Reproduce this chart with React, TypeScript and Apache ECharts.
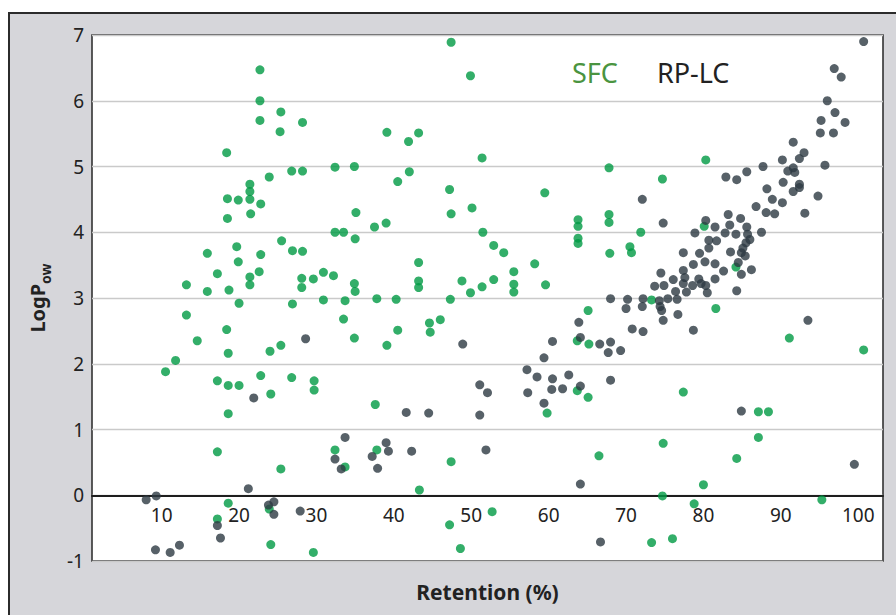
import React, { useEffect, useRef } from "react";
import * as echarts from "echarts";

// Retention (%) vs LogPow
const sfcPoints: [number, number][] = [
  [22.7, 6.47], [22.7, 6.0], [25.4, 5.83], [28.2, 5.67], [22.7, 5.7], [25.3, 5.53], [18.4, 5.21], [32.4, 4.99],
  [34.9, 5.0], [23.9, 4.84], [26.8, 4.93], [28.2, 4.93], [21.4, 4.73], [21.4, 4.62], [21.4, 4.5], [18.5, 4.51],
  [19.9, 4.49], [22.8, 4.43], [21.5, 4.28], [18.5, 4.21], [35.1, 4.3], [32.4, 4.0], [33.5, 4.0], [35.0, 3.9],
  [25.5, 3.87], [19.7, 3.78], [15.9, 3.68], [26.9, 3.72], [28.2, 3.71], [22.8, 3.66], [19.9, 3.55], [17.2, 3.37],
  [22.6, 3.4], [21.4, 3.32], [21.4, 3.2], [13.2, 3.2], [15.9, 3.1], [18.7, 3.12], [28.1, 3.3], [29.6, 3.29],
  [28.1, 3.16], [30.9, 3.39], [32.2, 3.34], [34.9, 3.22], [35.0, 3.1], [30.9, 2.97], [33.7, 2.96], [20.0, 2.92],
  [26.9, 2.91],
  [13.2, 2.74], [18.4, 2.52], [14.6, 2.35], [18.6, 2.16], [24.0, 2.19], [25.4, 2.28], [33.5, 2.68], [34.9, 2.39],
  [11.8, 2.05], [10.5, 1.88], [17.2, 1.74], [18.6, 1.67], [20.0, 1.67], [22.8, 1.82], [24.1, 1.54], [26.8, 1.79],
  [29.7, 1.74], [29.7, 1.6], [18.6, 1.24], [32.4, 0.69], [33.7, 0.43], [17.2, 0.66], [25.4, 0.4], [18.6, -0.12],
  [17.2, -0.36], [23.9, -0.21], [24.1, -0.75], [29.6, -0.87],
  [47.4, 6.89], [49.9, 6.38], [39.1, 5.52], [41.9, 5.38], [43.2, 5.51], [51.4, 5.13], [67.8, 4.98], [42.0, 4.92],
  [40.5, 4.77], [47.2, 4.65], [59.5, 4.6], [47.4, 4.28], [50.1, 4.37], [37.5, 4.08], [39.0, 4.14], [63.8, 4.19],
  [63.8, 4.09], [67.8, 4.27], [67.8, 4.15], [51.5, 4.0], [52.9, 3.8], [54.2, 3.69], [63.8, 3.91], [63.8, 3.83],
  [67.9, 3.68], [43.2, 3.54], [58.2, 3.52], [55.5, 3.4], [43.2, 3.26], [43.2, 3.16], [48.8, 3.26], [49.9, 3.08],
  [51.4, 3.17], [52.9, 3.28], [55.5, 3.21], [55.5, 3.09], [59.6, 3.2], [37.8, 2.99], [40.3, 2.98], [47.3, 2.98],
  [65.1, 2.81], [63.7, 2.35], [65.2, 2.3], [39.1, 2.28], [40.5, 2.51], [44.6, 2.62], [44.7, 2.48], [46.0, 2.67],
  [63.7, 1.59], [65.1, 1.49], [59.8, 1.25], [37.6, 1.38], [37.8, 0.69], [47.4, 0.51], [66.5, 0.6], [43.3, 0.08],
  [52.7, -0.25], [47.2, -0.45], [48.6, -0.81],
  [80.3, 5.1], [74.7, 4.81], [71.9, 4.0], [70.5, 3.78], [70.7, 3.69], [80.1, 4.09], [84.2, 3.47], [73.3, 2.97],
  [81.6, 2.84], [91.1, 2.39], [100.7, 2.21], [77.4, 1.57], [87.1, 1.27], [88.4, 1.27], [87.1, 0.88], [74.8, 0.79],
  [84.3, 0.56], [80.0, 0.16], [74.7, -0.01], [78.8, -0.13], [95.3, -0.07], [73.3, -0.72], [76.0, -0.66],
];

const rplcPoints: [number, number][] = [
  [28.6, 2.38], [21.9, 1.48], [33.7, 0.88], [32.4, 0.55], [33.2, 0.4], [21.2, 0.1], [9.3, -0.01], [8.0, -0.07],
  [17.2, -0.46], [17.6, -0.65], [23.8, -0.15], [24.5, -0.1], [24.5, -0.29], [27.9, -0.24], [9.2, -0.83],
  [11.1, -0.87], [12.3, -0.76],
  [68.0, 2.99],
  [63.9, 2.63], [64.1, 2.4], [66.6, 2.3], [68.0, 2.33], [67.7, 2.17], [69.3, 2.2], [60.5, 2.34], [59.4, 2.09],
  [48.9, 2.3], [57.2, 1.91], [58.5, 1.8], [57.3, 1.56], [60.5, 1.77], [60.4, 1.61], [61.8, 1.62], [62.6, 1.83],
  [64.1, 1.66], [59.4, 1.4], [68.0, 1.75], [51.1, 1.68], [52.1, 1.56], [51.1, 1.22], [41.6, 1.26], [44.5, 1.25],
  [39.0, 0.8], [39.3, 0.67], [37.2, 0.59], [37.9, 0.41], [42.3, 0.67], [51.9, 0.69], [64.1, 0.17], [66.7, -0.71],
  [100.7, 6.9], [96.9, 6.49], [97.8, 6.36], [96.0, 6.0], [97.0, 5.82], [98.3, 5.67], [95.2, 5.7], [95.1, 5.51],
  [96.8, 5.51], [91.6, 5.37], [93.0, 5.21], [92.4, 5.12], [95.7, 5.02], [90.2, 5.1], [87.7, 5.0], [85.6, 4.92],
  [84.3, 4.8], [82.9, 4.84], [91.6, 4.98], [90.9, 4.93], [91.8, 4.91], [90.3, 4.76], [92.4, 4.73], [92.4, 4.68],
  [91.6, 4.62], [88.2, 4.66], [88.9, 4.5], [90.2, 4.45], [94.8, 4.55], [93.1, 4.29], [86.8, 4.39], [88.1, 4.3],
  [89.2, 4.28], [72.1, 4.5], [74.8, 4.14], [80.3, 4.18], [83.2, 4.27], [84.8, 4.21], [83.4, 4.11], [81.5, 4.08],
  [78.9, 3.99], [82.8, 3.99], [84.2, 3.97], [85.6, 4.08], [85.7, 3.97], [86.0, 3.89], [85.5, 3.84], [87.5, 4.0],
  [80.7, 3.88], [81.7, 3.87], [80.7, 3.76], [85.1, 3.76], [77.4, 3.69], [79.5, 3.68], [83.5, 3.7], [84.9, 3.69],
  [85.4, 3.64], [78.7, 3.51], [80.2, 3.55], [81.5, 3.52], [84.5, 3.54], [77.4, 3.42], [74.5, 3.38], [82.6, 3.41],
  [84.9, 3.36], [86.2, 3.43], [76.1, 3.28], [77.6, 3.31], [79.4, 3.29], [81.5, 3.29], [73.7, 3.18], [74.9, 3.19],
  [77.4, 3.22], [78.6, 3.19], [79.7, 3.22], [80.3, 3.19], [76.4, 3.1], [77.8, 3.09], [80.5, 3.08], [84.3, 3.11],
  [70.2, 2.98], [72.2, 2.99], [74.3, 2.96], [75.4, 2.99], [76.6, 2.98],
  [70.0, 2.84], [72.1, 2.87], [74.4, 2.87], [74.6, 2.81], [74.8, 2.66], [76.7, 2.75], [70.8, 2.53], [72.2, 2.49],
  [78.7, 2.51], [93.5, 2.66], [84.9, 1.28], [99.5, 0.47],
];

const seriesNames = ["SFC", "RP-LC"];
const xTickValues = [10, 20, 30, 40, 50, 60, 70, 80, 90, 100];
const yMin = -1;
const yMax = 7;

const FONT = "'Noto Sans', 'Open Sans', sans-serif";
const GREEN = "#009a44";
const DARK = "#2d3a42";

const GRID_TOP = 35;
const GRID_BOTTOM = 54;
const CHART_H = 615;

export default function App() {
  const ref = useRef<HTMLDivElement>(null);

  useEffect(() => {
    if (!ref.current) return;
    const chart = echarts.init(ref.current, undefined, { renderer: "svg" });
    // move the x axis (line, labels, name) up to the y = 0 line
    const plotH = CHART_H - GRID_TOP - GRID_BOTTOM;
    const zeroOffset = -(plotH * (0 - yMin)) / (yMax - yMin);
    chart.setOption({
      animation: false,
      backgroundColor: "transparent",
      textStyle: { fontFamily: FONT },
      grid: {
        left: 92,
        top: GRID_TOP,
        right: 13,
        bottom: GRID_BOTTOM,
        containLabel: false,
        outerBoundsMode: "none",
        show: true,
        backgroundColor: "#ffffff",
        borderColor: "#333333",
        borderWidth: 1.6,
      },
      legend: {
        data: [
          { name: seriesNames[0], textStyle: { color: "#4a9440" } },
          { name: seriesNames[1], textStyle: { color: "#222222" } },
        ],
        icon: "none",
        itemWidth: 0,
        itemGap: 34,
        left: 562,
        top: 54,
        selectedMode: false,
        textStyle: { fontSize: 27, fontFamily: FONT },
      },
      xAxis: {
        type: "value",
        min: 1,
        max: 103.2,
        position: "bottom",
        offset: zeroOffset,
        name: "Retention (%)",
        nameLocation: "middle",
        nameGap: 86,
        nameTextStyle: { fontSize: 21, fontWeight: "bold", color: "#222", fontFamily: FONT },
        axisLine: { onZero: false, lineStyle: { color: "#1e1e1e", width: 2 } },
        axisTick: { show: false },
        splitLine: { show: false },
        axisLabel: {
          customValues: xTickValues,
          fontSize: 19,
          color: "#222",
          margin: 10,
          fontFamily: FONT,
        },
      },
      yAxis: {
        type: "value",
        min: yMin,
        max: yMax,
        interval: 1,
        name: "{a|LogP}{b|ow}",
        nameLocation: "middle",
        nameRotate: 90,
        nameGap: 40,
        nameTextStyle: {
          rich: {
            a: { fontSize: 20, fontWeight: "bold", color: "#222", fontFamily: FONT, lineHeight: 30, verticalAlign: "middle" },
            b: { fontSize: 14, fontWeight: "bold", color: "#222", fontFamily: FONT, lineHeight: 14, verticalAlign: "bottom" },
          },
        },
        axisLine: { show: false },
        axisTick: { show: false },
        splitLine: { show: true, lineStyle: { color: "#cacaca", width: 1.3 } },
        axisLabel: { fontSize: 19, color: "#222", margin: 8, fontFamily: FONT },
      },
      series: [
        {
          name: seriesNames[0],
          type: "scatter",
          data: sfcPoints,
          symbolSize: 9,
          itemStyle: { color: GREEN },
          z: 2,
        },
        {
          name: seriesNames[1],
          type: "scatter",
          data: rplcPoints,
          symbolSize: 9,
          itemStyle: { color: DARK },
          z: 3,
        },
      ],
    });
    return () => chart.dispose();
  }, []);

  return (
    <div style={{ position: "fixed", left: 0, top: 0, width: 896, height: 615, background: "#ffffff", overflow: "hidden" }}>
      <div
        style={{
          position: "absolute",
          left: 8,
          top: 12,
          width: 900,
          height: 620,
          background: "#d6d6da",
          border: "2px solid #2b2b2b",
        }}
      />
      <div ref={ref} style={{ position: "absolute", left: 0, top: 0, width: 896, height: 615 }} />
    </div>
  );
}
